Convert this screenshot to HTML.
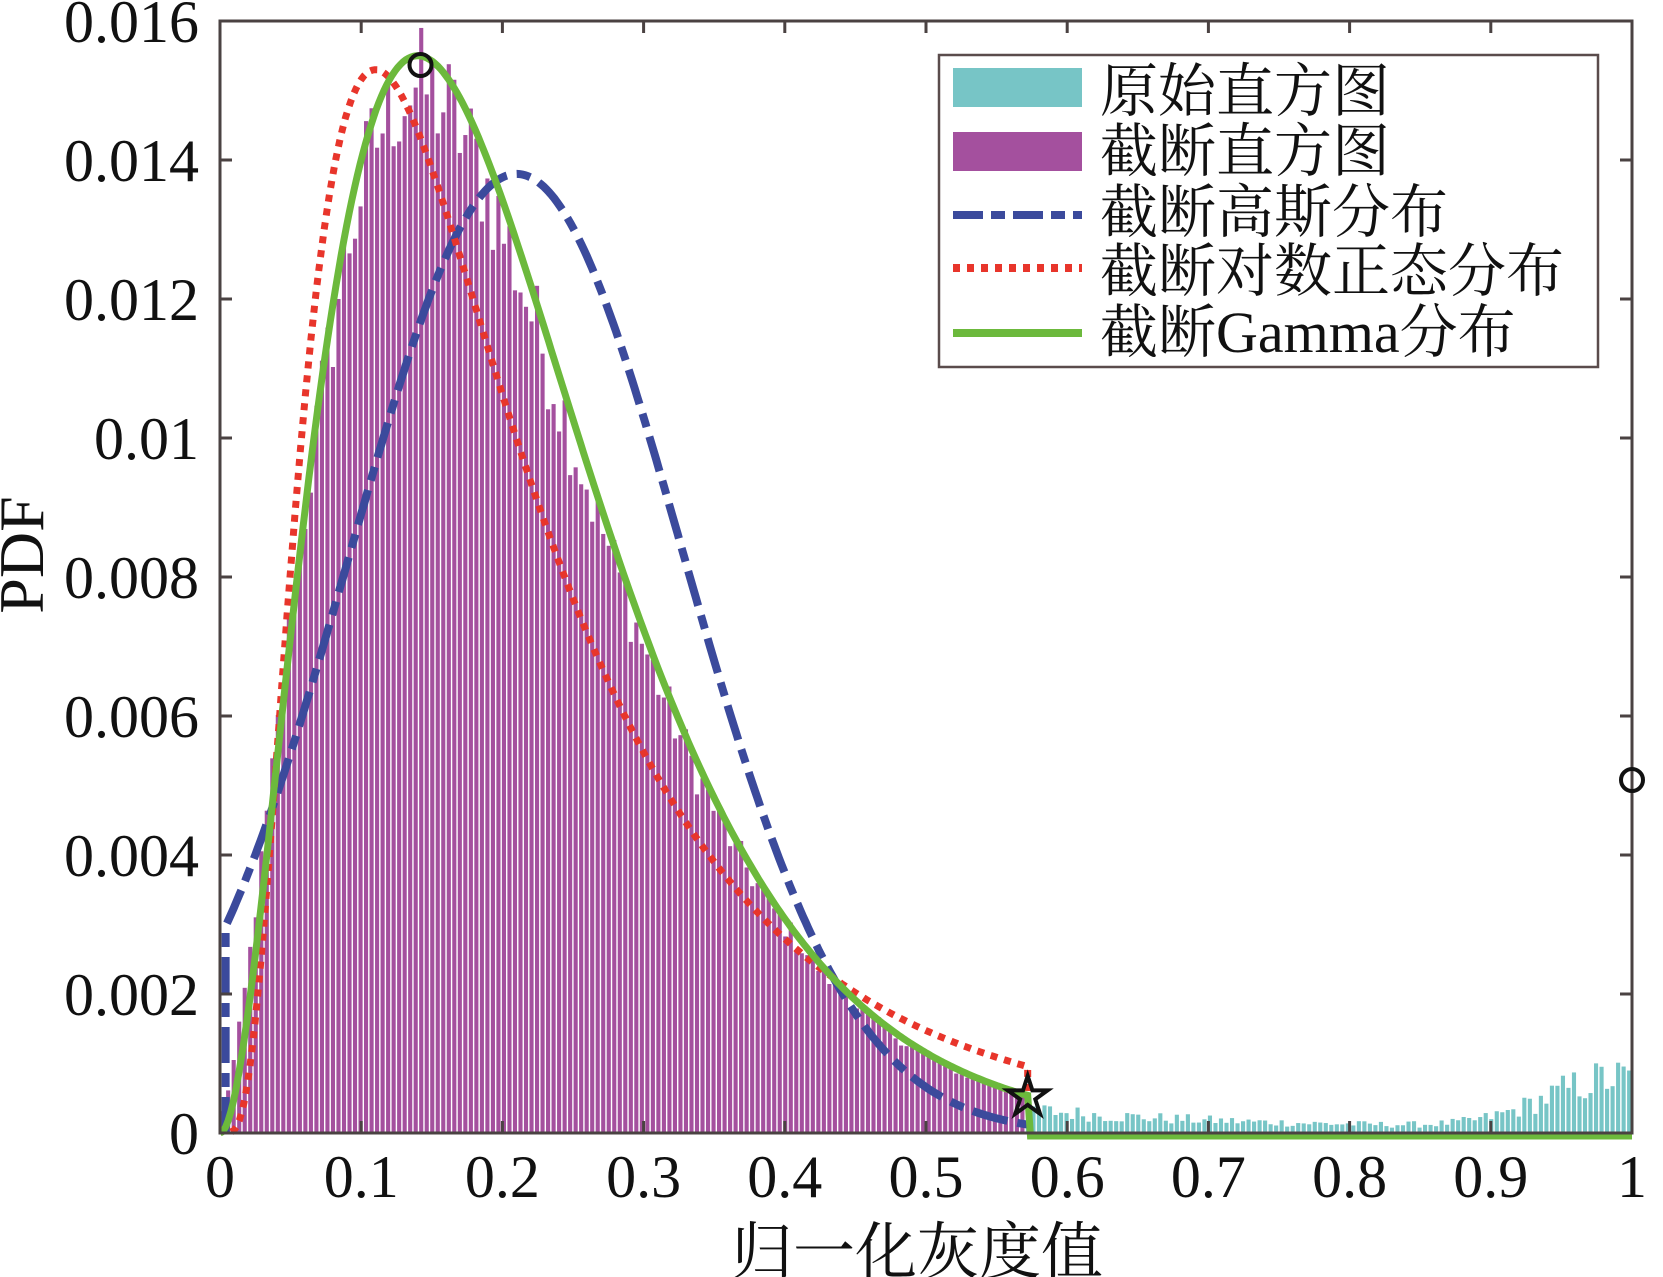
<!DOCTYPE html>
<html><head><meta charset="utf-8"><style>
html,body{margin:0;padding:0;background:#fff;}
svg{display:block;}
text{font-family:"Liberation Serif","Noto Serif CJK SC",serif;fill:#111;}
.cjk{font-family:"Liberation Serif","Noto Serif CJK SC","Noto Sans CJK SC",serif;}
</style></head><body>
<svg id="s" width="1663" height="1277" viewBox="0 0 1663 1277" xmlns="http://www.w3.org/2000/svg">
<g id="bars"></g>
<g id="curves"></g>
<g id="axes" stroke="#4a4242" stroke-width="3" fill="none">
<rect x="220" y="21" width="1412" height="1112"/>
</g>
<g id="ticks" stroke="#4a4242" stroke-width="3"></g>
<g id="marks" fill="none" stroke="#111" stroke-width="4">
<circle cx="420.5" cy="65" r="11"/>
<circle cx="1632" cy="780" r="11"/>
<polygon id="star" points=""/>
</g>
<g id="ylab" font-size="60" text-anchor="end">
<text x="199" y="42">0.016</text>
<text x="199" y="181">0.014</text>
<text x="199" y="320">0.012</text>
<text x="199" y="459">0.01</text>
<text x="199" y="598">0.008</text>
<text x="199" y="737">0.006</text>
<text x="199" y="876">0.004</text>
<text x="199" y="1015">0.002</text>
<text x="199" y="1154">0</text>
</g>
<g id="xlab" font-size="60" text-anchor="middle"></g>
<text x="917" y="1273" font-size="62" text-anchor="middle" class="cjk">归一化灰度值</text>
<text transform="translate(43,555) rotate(-90)" font-size="64" text-anchor="middle">PDF</text>
<rect x="939" y="55" width="659" height="312" fill="#fff" stroke="#5a4c4c" stroke-width="2.5"/>
<rect x="953" y="68" width="129" height="39" fill="#77c5c6"/>
<rect x="953" y="132" width="129" height="39" fill="#a4509e"/>
<line x1="953" y1="215" x2="1082" y2="215" stroke="#3b4a9c" stroke-width="8" stroke-dasharray="30 8 14 8"/>
<line x1="953" y1="268" x2="1082" y2="268" stroke="#e8352b" stroke-width="8" stroke-dasharray="7 7"/>
<line x1="953" y1="333" x2="1082" y2="333" stroke="#6cb93c" stroke-width="8"/>
<g font-size="58" class="cjk">
<text x="1100" y="111">原始直方图</text>
<text x="1100" y="171">截断直方图</text>
<text x="1100" y="232">截断高斯分布</text>
<text x="1100" y="291">截断对数正态分布</text>
<text x="1100" y="352">截断Gamma分布</text>
</g>
</svg>
<script>
(function(){
var NS="http://www.w3.org/2000/svg";
function X(v){return 220+1412*v;}
function Y(p){return 1133-p*69500;}
function el(t,a,parent){var e=document.createElementNS(NS,t);for(var k in a)e.setAttribute(k,a[k]);parent.appendChild(e);return e;}
var seed=12345;function rnd(){seed=(seed*1103515245+12345)%2147483648;return seed/2147483648;}
function gam(x){if(x<=0)return 0;var k=3,th=0.07,m=0.14;return 0.0155*Math.pow(x/m,k-1)*Math.exp(-(x-m)/th);}
function logn(x){if(x<=0.004)return 0;var s=0.7,mu=Math.log(0.11)+s*s;var f=function(t){var d=Math.log(t)-mu;return Math.exp(-d*d/(2*s*s))/t;};return 0.0153*f(x)/f(0.11);}
function gau(x){var m=0.21,s=0.1176;return 0.0138*Math.exp(-(x-m)*(x-m)/(2*s*s));}
var bars=document.getElementById('bars');
var bw=1412/256;
for(var i=0;i<256;i++){
 var x=(i+0.5)/256,h,col;
 if(x<0.572){
  var sh=0.006*Math.max(0,1-x/0.08);
  h=gam(x+sh)*(0.97+(rnd()-0.5)*0.12);
  if(i==36)h=0.0159;
  col="#a4509e";
 } else {
  h=(0.00026*Math.exp(-(x-0.575)/0.15)+0.00007+0.0007*Math.exp(-Math.pow((x-0.99)/0.07,2)))*(0.6+rnd()*0.8);
  col="#77c5c6";
 }
 el('rect',{x:X(i/256)+0.6,y:Y(h),width:bw-1.4,height:1133-Y(h),fill:col},bars);
}
var cv=document.getElementById('curves');
function path(f,a,b,n){var d="";for(var j=0;j<=n;j++){var x=a+(b-a)*j/n;d+=(j?"L":"M")+X(x).toFixed(1)+","+Y(f(x)).toFixed(1);}return d;}
el('path',{d:"M"+X(0.004)+","+Y(0)+"L"+X(0.004)+","+Y(gau(0))+path(gau,0.004,0.572,300).replace(/^M/,"L"),fill:"none",stroke:"#3b4a9c","stroke-width":8,"stroke-dasharray":"36 10 14 10"},cv);
el('path',{d:path(logn,0.008,0.572,300)+"L"+X(0.572)+","+Y(0.0005),fill:"none",stroke:"#e8352b","stroke-width":7,"stroke-dasharray":"7 7"},cv);
el('path',{d:path(gam,0,0.572,300)+"L"+X(0.574)+","+(1136)+"L"+X(1)+",1136",fill:"none",stroke:"#6cb93c","stroke-width":7},cv);
var tk=document.getElementById('ticks');
for(var t=1;t<10;t++){var xx=X(t/10);el('line',{x1:xx,y1:1133,x2:xx,y2:1121},tk);el('line',{x1:xx,y1:21,x2:xx,y2:33},tk);}
for(var t=1;t<8;t++){var yy=Y(t*0.002);el('line',{x1:220,y1:yy,x2:232,y2:yy},tk);el('line',{x1:1632,y1:yy,x2:1620,y2:yy},tk);}
var xl=document.getElementById('xlab');
var labs=["0","0.1","0.2","0.3","0.4","0.5","0.6","0.7","0.8","0.9","1"];
for(var t=0;t<=10;t++){var e=el('text',{x:X(t/10),y:1197},xl);e.textContent=labs[t];}
var cx=X(0.572),cy=Y(0.00052),R=21,r=8,pts=[];
for(var j=0;j<10;j++){var a=-Math.PI/2+j*Math.PI/5,rr=j%2?r:R;pts.push((cx+rr*Math.cos(a)).toFixed(1)+","+(cy+rr*Math.sin(a)).toFixed(1));}
document.getElementById('star').setAttribute('points',pts.join(" "));
})();
</script>
</body></html>
